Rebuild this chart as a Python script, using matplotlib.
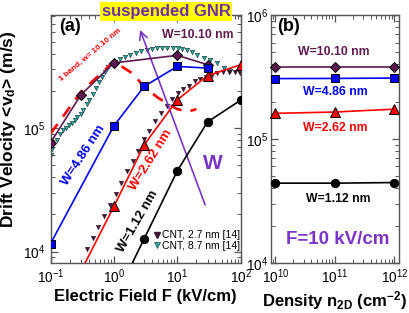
import matplotlib
matplotlib.use("Agg")
import matplotlib.pyplot as plt
from matplotlib.lines import Line2D
from matplotlib.ticker import LogLocator, NullFormatter

plt.rcParams['font.family'] = ['Liberation Sans', 'DejaVu Sans']
plt.rcParams['mathtext.fontset'] = 'custom'
plt.rcParams['mathtext.rm'] = 'Liberation Sans'
plt.rcParams['mathtext.it'] = 'Liberation Sans:italic'
plt.rcParams['mathtext.bf'] = 'Liberation Sans:bold'

# ---------------- data: panel (a) ----------------
F_w1010 = [0.1, 0.3, 1, 10, 30]
v_w1010 = [7.6e4, 1.85e5, 3.36e5, 3.87e5, 3.25e5]

F_w486 = [0.1, 1, 3, 10, 30]
v_w486 = [1.16e4, 1.04e5, 2.17e5, 3.15e5, 3.05e5]

F_w262 = [0.1, 0.3, 1, 3, 10, 30, 100]
v_w262 = [2.3e3, 6.9e3, 2.32e4, 7.3e4, 1.69e5, 2.65e5, 3.25e5]

F_w112 = [0.3, 1, 3, 10, 30, 100]
v_w112 = [1.2e3, 4.0e3, 1.27e4, 4.5e4, 1.12e5, 1.68e5]

F_1band = [0.1, 0.3, 1.0, 2.0, 3.0, 5.0, 10, 15, 20]
v_1band = [9.0e4, 1.95e5, 3.45e5, 2.75e5, 2.15e5, 1.75e5, 1.42e5, 1.36e5, 1.42e5]

F_cnt27 = [0.38, 0.47, 0.57, 0.70, 0.86, 1.06, 1.3, 1.6, 1.97, 2.4, 3.0, 3.6,
           4.5, 5.5, 6.8, 8.3, 10.2, 12.5, 15.4, 19, 23, 28, 35, 43, 53, 65, 80, 98]
v_cnt27 = [1.05e4, 1.3e4, 1.58e4, 1.94e4, 2.4e4, 2.95e4, 3.6e4, 4.45e4, 5.45e4,
           6.5e4, 8.1e4, 9.5e4, 1.13e5, 1.32e5, 1.52e5, 1.72e5, 1.92e5, 2.05e5,
           2.2e5, 2.38e5, 2.5e5, 2.6e5, 2.7e5, 2.78e5, 2.84e5, 2.86e5, 2.84e5, 2.8e5]

F_cnt87 = [0.1, 0.105, 0.125, 0.14, 0.155, 0.175, 0.195, 0.215, 0.24, 0.265, 0.3,
           0.33, 0.37, 0.41, 0.46, 0.52, 0.58, 0.65, 0.73, 0.82, 0.92, 1.05, 1.25,
           1.5, 1.8, 2.2, 2.7, 3.3, 4.0, 4.8, 5.8, 7.0, 8.5, 10.3, 12.0, 14, 17,
           20.5, 26, 33, 43, 54, 69, 93]
v_cnt87 = [6.0e4, 6.8e4, 8.0e4, 9.0e4, 9.6e4, 1.0e5, 1.05e5, 1.1e5, 1.15e5, 1.22e5,
           1.3e5, 1.4e5, 1.55e5, 1.7e5, 1.9e5, 2.1e5, 2.35e5, 2.6e5, 2.85e5, 3.1e5,
           3.3e5, 3.45e5, 3.6e5, 3.75e5, 3.9e5, 4.05e5, 4.2e5, 4.3e5, 4.38e5, 4.42e5,
           4.45e5, 4.45e5, 4.45e5, 4.42e5, 4.38e5, 4.3e5, 4.1e5, 3.9e5, 3.7e5,
           3.57e5, 3.36e5, 3.06e5, 2.87e5, 2.87e5]

# ---------------- data: panel (b) ----------------
n2D = [1e10, 1e11, 1e12]
vb_w1010 = [3.78e5, 3.78e5, 3.78e5]
vb_w486 = [3.07e5, 3.08e5, 3.1e5]
vb_w262 = [1.61e5, 1.65e5, 1.74e5]
vb_w112 = [4.4e4, 4.4e4, 4.45e4]

C_PURP = '#5e1a50'
C_BLUE = '#0000ff'
C_RED = '#ff0000'
C_BLK = '#000000'
C_TEAL = '#2aa7a0'
C_DARK = '#3a1530'
C_VIOL = '#7a35c8'

fig = plt.figure(figsize=(4.09, 3.13), dpi=100)
axa = fig.add_axes([0.1235, 0.16, 0.465, 0.792])
axb = fig.add_axes([0.662, 0.16, 0.3137, 0.792])

def style(ax):
    ax.set_xscale('log')
    ax.set_yscale('log')
    for s in ax.spines.values():
        s.set_color('#555555')
        s.set_linewidth(1.0)
    ax.tick_params(which='both', direction='in', top=True, right=True,
                   color='#555555', labelsize=9.8)
    ax.tick_params(which='major', length=5, width=0.9)
    ax.tick_params(which='minor', length=3, width=0.7)
    ax.xaxis.set_minor_locator(LogLocator(base=10, subs=range(2, 10), numticks=20))
    ax.yaxis.set_minor_locator(LogLocator(base=10, subs=range(2, 10), numticks=20))
    ax.xaxis.set_minor_formatter(NullFormatter())
    ax.yaxis.set_minor_formatter(NullFormatter())

style(axa)
style(axb)
axb.tick_params(axis='y', pad=2)

lw = 1.2
ms_edge = 0.7
# panel (a)
axa.plot(F_cnt87, v_cnt87, linestyle='none', marker='v', ms=3.2,
         mfc=C_TEAL, mec='#103030', mew=0.4, zorder=2)
axa.plot(F_cnt27, v_cnt27, linestyle='none', marker='v', ms=3.2,
         mfc=C_DARK, mec=C_DARK, mew=0.4, zorder=2)
axa.plot(F_1band, v_1band, color=C_RED, lw=1.9, dashes=(4.5, 3.5), zorder=3)
axa.plot(F_w1010, v_w1010, color=C_PURP, lw=lw, marker='D', ms=5.5,
         mfc=C_PURP, mec='black', mew=ms_edge, zorder=4)
axa.plot(F_w486, v_w486, color=C_BLUE, lw=lw, marker='s', ms=5.5,
         mfc=C_BLUE, mec='black', mew=ms_edge, zorder=4)
axa.plot(F_w262, v_w262, color=C_RED, lw=lw, marker='^', ms=7,
         mfc=C_RED, mec='black', mew=ms_edge, zorder=4)
axa.plot(F_w112, v_w112, color=C_BLK, lw=lw, marker='o', ms=6,
         mfc=C_BLK, mec='black', mew=ms_edge, zorder=4)
axa.set_xlim(0.1, 100)
axa.set_ylim(8.1e3, 8.2e5)
axa.set_xlabel('Electric Field F (kV/cm)', fontsize=12, fontweight='bold', labelpad=2)
axa.set_ylabel(r'Drift Velocity <v$_{\mathbf{d}}$> (m/s)', fontsize=12.5,
               fontweight='bold')
axa.yaxis.set_label_coords(-0.17, 0.54)

axa.text(0.10, 0.955, '(a)', transform=axa.transAxes, fontsize=13,
         fontweight='bold', ha='center', va='center')
axa.text(0.776, 0.919, 'W=10.10 nm', transform=axa.transAxes, fontsize=8.8,
         fontweight='bold', color=C_PURP, ha='center', va='center')
axa.text(0.208, 0.839, '1 band, w= 10.10 nm', transform=axa.transAxes, fontsize=5.8,
         fontweight='bold', color=C_RED, ha='center', va='center', rotation=40)
axa.text(0.171, 0.435, 'W=4.86 nm', transform=axa.transAxes, fontsize=9.5,
         fontweight='bold', color=C_BLUE, ha='center', va='center', rotation=57)
axa.text(0.528, 0.415, 'W=2.62 nm', transform=axa.transAxes, fontsize=9.5,
         fontweight='bold', color=C_RED, ha='center', va='center', rotation=58)
axa.text(0.46, 0.169, 'W=1.12 nm', transform=axa.transAxes, fontsize=9.5,
         fontweight='bold', color=C_BLK, ha='center', va='center', rotation=60)
axa.text(0.854, 0.403, 'W', transform=axa.transAxes, fontsize=15,
         fontweight='bold', color=C_VIOL, ha='center', va='center')
axa.annotate('', xy=(0.471, 0.94), xytext=(0.813, 0.234),
             xycoords='axes fraction', textcoords='axes fraction',
             arrowprops=dict(arrowstyle='->', color=C_VIOL, lw=1.2,
                             mutation_scale=14, shrinkA=0, shrinkB=0))

handles = [Line2D([], [], linestyle='none', marker='v', ms=4.2, mfc=C_DARK,
                  mec=C_DARK),
           Line2D([], [], linestyle='none', marker='v', ms=4.2, mfc=C_TEAL,
                  mec='#103030', mew=0.4)]
axa.legend(handles, ['CNT, 2.7 nm [14]', 'CNT, 8.7 nm [14]'], loc='lower right',
           bbox_to_anchor=(1.0, 0.045), frameon=False, fontsize=7.5,
           handlelength=0.6, handletextpad=0.15, labelspacing=0.05,
           borderpad=0.0, borderaxespad=0.1)

# panel (b)
axb.plot(n2D, vb_w1010, color=C_PURP, lw=lw, marker='D', ms=5.5, mfc=C_PURP,
         mec='black', mew=ms_edge, clip_on=False, zorder=4)
axb.plot(n2D, vb_w486, color=C_BLUE, lw=lw, marker='s', ms=5.5, mfc=C_BLUE,
         mec='black', mew=ms_edge, clip_on=False, zorder=4)
axb.plot(n2D, vb_w262, color=C_RED, lw=lw, marker='^', ms=7, mfc=C_RED,
         mec='black', mew=ms_edge, clip_on=False, zorder=4)
axb.plot(n2D, vb_w112, color=C_BLK, lw=lw, marker='o', ms=6, mfc=C_BLK,
         mec='black', mew=ms_edge, clip_on=False, zorder=4)
axb.set_xlim(8.4e9, 1.2e12)
axb.set_ylim(1e4, 1e6)
axb.set_xticks([1e10, 1e11, 1e12])
axb.set_xlabel(r'Density n$_{\mathbf{2D}}$ (cm$^{\mathbf{-2}}$)', fontsize=12,
               fontweight='bold', labelpad=2)

axb.text(0.135, 0.955, '(b)', transform=axb.transAxes, fontsize=13,
         fontweight='bold', ha='center', va='center')
axb.text(0.494, 0.851, 'W=10.10 nm', transform=axb.transAxes, fontsize=8.8,
         fontweight='bold', color=C_PURP, ha='center', va='center')
axb.text(0.501, 0.69, 'W=4.86 nm', transform=axb.transAxes, fontsize=8.8,
         fontweight='bold', color=C_BLUE, ha='center', va='center')
axb.text(0.501, 0.544, 'W=2.62 nm', transform=axb.transAxes, fontsize=8.8,
         fontweight='bold', color=C_RED, ha='center', va='center')
axb.text(0.525, 0.258, 'W=1.12 nm', transform=axb.transAxes, fontsize=8.8,
         fontweight='bold', color=C_BLK, ha='center', va='center')
axb.text(0.52, 0.093, 'F=10 kV/cm', transform=axb.transAxes, fontsize=13.5,
         fontweight='bold', color=C_VIOL, ha='center', va='center')

fig.text(0.406, 0.962, 'suspended GNR', fontsize=12, fontweight='bold',
         color='#7030a0', ha='center', va='center',
         bbox=dict(boxstyle='square,pad=0.12', fc='#ffff00', ec='none'))

fig.savefig('out.png', dpi=100)
